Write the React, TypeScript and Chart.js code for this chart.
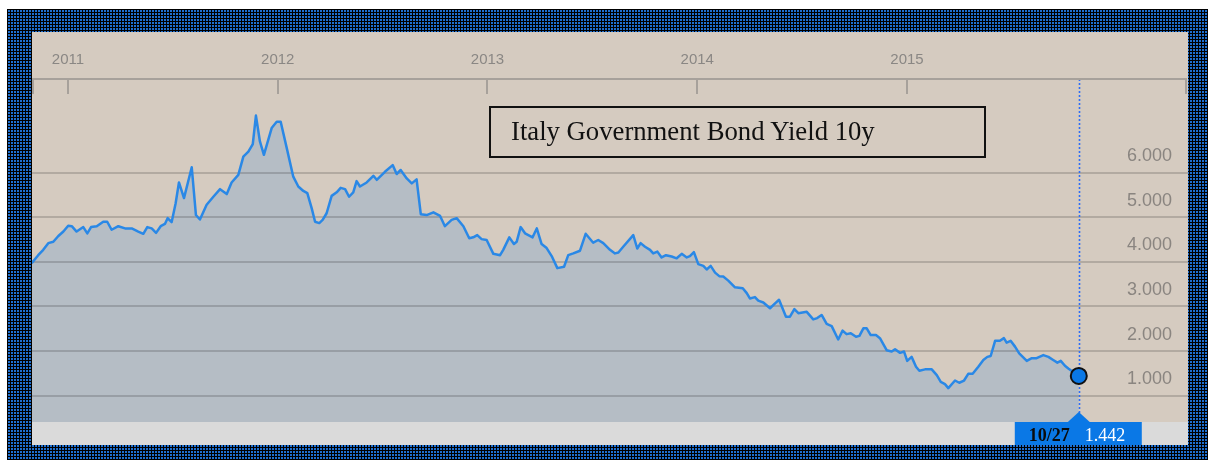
import React, { useEffect, useRef } from "react";
import { Chart, registerables } from "chart.js";

Chart.register(...registerables);

// Decimal-year dates (weekly-ish samples)
const dates: number[] = [
  2010.827, 2010.858, 2010.882, 2010.906, 2010.93, 2010.954, 2010.978, 2011.001, 2011.018, 2011.041,
  2011.073, 2011.092, 2011.11, 2011.137, 2011.168, 2011.187, 2011.208, 2011.24, 2011.272, 2011.304,
  2011.335, 2011.359, 2011.378, 2011.399, 2011.42, 2011.442, 2011.462, 2011.475, 2011.494, 2011.513,
  2011.529, 2011.553, 2011.59, 2011.61, 2011.629,
  2011.661, 2011.693, 2011.725, 2011.757, 2011.78, 2011.812, 2011.836, 2011.86, 2011.881, 2011.896,
  2011.915, 2011.934, 2011.971, 2011.995, 2012.014, 2012.043, 2012.074, 2012.098, 2012.122, 2012.141,
  2012.162, 2012.178, 2012.198, 2012.214, 2012.233, 2012.257, 2012.281, 2012.3, 2012.321, 2012.34,
  2012.36, 2012.376, 2012.392, 2012.424, 2012.456, 2012.472,
  2012.511, 2012.548, 2012.567, 2012.586, 2012.615, 2012.639, 2012.662, 2012.682, 2012.71, 2012.742,
  2012.774, 2012.797, 2012.829, 2012.853, 2012.885, 2012.913, 2012.932, 2012.951, 2012.972, 2012.996,
  2013.028, 2013.06, 2013.075, 2013.104, 2013.126, 2013.139, 2013.158, 2013.179, 2013.215, 2013.235,
  2013.258, 2013.282, 2013.306, 2013.333,
  2013.365, 2013.385, 2013.409, 2013.441, 2013.468, 2013.504, 2013.528, 2013.552, 2013.584, 2013.608,
  2013.624, 2013.647, 2013.695, 2013.714, 2013.73, 2013.751, 2013.775, 2013.79, 2013.81, 2013.83,
  2013.851, 2013.878, 2013.902, 2013.926, 2013.95, 2013.965, 2013.984, 2014.005, 2014.029, 2014.045,
  2014.064, 2014.085, 2014.105, 2014.124, 2014.148,
  2014.18, 2014.217, 2014.236, 2014.251, 2014.275, 2014.291, 2014.315, 2014.347, 2014.371, 2014.39,
  2014.423, 2014.442, 2014.463, 2014.482, 2014.522, 2014.553, 2014.572, 2014.593, 2014.617, 2014.641,
  2014.672, 2014.693, 2014.712, 2014.732, 2014.757, 2014.773, 2014.792, 2014.808, 2014.827, 2014.852,
  2014.871, 2014.903, 2014.927, 2014.943, 2014.967, 2014.986, 2015.001, 2015.022, 2015.043, 2015.059,
  2015.086, 2015.118, 2015.142, 2015.161, 2015.181, 2015.197, 2015.229, 2015.249, 2015.272, 2015.292,
  2015.313, 2015.34, 2015.364, 2015.383, 2015.399, 2015.42, 2015.443, 2015.462, 2015.475, 2015.494,
  2015.515, 2015.535, 2015.571, 2015.595, 2015.618, 2015.65, 2015.674, 2015.697, 2015.717, 2015.733,
  2015.753, 2015.769, 2015.819,
];

const yields: number[] = [
  3.97, 4.15, 4.27, 4.42, 4.45, 4.58, 4.68, 4.81, 4.8, 4.68,
  4.78, 4.64, 4.78, 4.8, 4.9, 4.9, 4.72, 4.8, 4.75, 4.75,
  4.68, 4.63, 4.78, 4.75, 4.65, 4.8, 4.85, 4.98, 4.89, 5.31,
  5.78, 5.43, 6.12, 5.05, 4.95,
  5.28, 5.46, 5.63, 5.52, 5.78, 5.95, 6.36, 6.47, 6.64, 7.28,
  6.7, 6.4, 7.0, 7.14, 7.14, 6.55, 5.91, 5.69, 5.59, 5.54,
  5.2, 4.9, 4.87, 4.94, 5.09, 5.48, 5.56, 5.66, 5.63, 5.46,
  5.56, 5.81, 5.69, 5.78, 5.93, 5.84,
  6.02, 6.17, 5.97, 6.06, 5.87, 5.76, 5.85, 5.07, 5.05, 5.11,
  5.03, 4.8, 4.94, 4.98, 4.8, 4.53, 4.55, 4.6, 4.51, 4.49,
  4.18, 4.15, 4.27, 4.55, 4.4, 4.45, 4.78, 4.64, 4.55, 4.75,
  4.4, 4.31, 4.13, 3.86,
  3.89, 4.15, 4.19, 4.25, 4.63, 4.43, 4.49, 4.42, 4.27, 4.19,
  4.21, 4.34, 4.6, 4.3, 4.42, 4.34, 4.27, 4.19, 4.23, 4.1,
  4.15, 4.12, 4.08, 4.18, 4.1, 4.13, 4.22, 3.95, 3.91, 3.83,
  3.91, 3.76, 3.68, 3.67, 3.58,
  3.43, 3.41, 3.3, 3.18, 3.21, 3.13, 3.09, 2.96, 3.07, 3.15,
  2.77, 2.77, 2.94, 2.85, 2.88, 2.71, 2.74, 2.81, 2.61, 2.56,
  2.26, 2.46, 2.38, 2.4, 2.32, 2.34, 2.51, 2.51, 2.36, 2.36,
  2.29, 2.02, 1.99, 2.04, 1.96, 1.99, 1.78, 1.87, 1.65, 1.56,
  1.59, 1.59, 1.46, 1.31, 1.26, 1.17, 1.34, 1.29, 1.34, 1.49,
  1.49, 1.65, 1.8, 1.87, 1.89, 2.23, 2.23, 2.29, 2.19, 2.23,
  2.1, 1.95, 1.78, 1.84, 1.84, 1.91, 1.87, 1.8, 1.74, 1.78,
  1.67, 1.61, 1.442,
];

const yearTicks: number[] = [2011, 2012, 2013, 2014, 2015];
const valueTicks: number[] = [1, 2, 3, 4, 5, 6];
const chartTitle = "Italy Government Bond Yield 10y";
const lastDateLabel = "10/27";
const lastValueLabel = "1.442";

const BG = "#d5cbc0";
const STRIP = "#dadada";
const FILL = "#b5bdc5";
const LINE = "#2a88e6";
const MARK = "#0a78e6";

const decor = {
  id: "decor",
  beforeDraw(chart: any) {
    const { ctx, width, height, chartArea } = chart;
    ctx.save();
    ctx.fillStyle = BG;
    ctx.fillRect(0, 0, width, height);
    ctx.fillStyle = STRIP;
    ctx.fillRect(0, chartArea.bottom, width, height - chartArea.bottom);
    ctx.restore();
  },
  beforeDatasetsDraw(chart: any) {
    const { ctx, chartArea, width } = chart;
    const ys = chart.scales.y;
    const xs = chart.scales.x;
    ctx.save();
    // horizontal grid lines
    ctx.strokeStyle = "rgba(0,0,0,0.16)";
    ctx.lineWidth = 2;
    for (const v of valueTicks) {
      const py = Math.round(ys.getPixelForValue(v));
      ctx.beginPath();
      ctx.moveTo(0, py);
      ctx.lineTo(width, py);
      ctx.stroke();
    }
    // dotted cursor line
    const lx = Math.round(xs.getPixelForValue(dates[dates.length - 1])) + 0.5;
    ctx.strokeStyle = "#2f6ff5";
    ctx.lineWidth = 1.6;
    ctx.setLineDash([2, 2]);
    ctx.beginPath();
    ctx.moveTo(lx, chartArea.top);
    ctx.lineTo(lx, chartArea.bottom - 8);
    ctx.stroke();
    ctx.restore();
  },
  afterDatasetsDraw(chart: any) {
    const { ctx, chartArea, width } = chart;
    const xs = chart.scales.x;
    const ys = chart.scales.y;
    ctx.save();
    // top axis line and ticks
    ctx.strokeStyle = "#a7a19b";
    ctx.lineWidth = 2;
    const ay = chartArea.top;
    ctx.beginPath();
    ctx.moveTo(0, ay);
    ctx.lineTo(width - 1, ay);
    ctx.stroke();
    const tickXs = [1, width - 2, ...yearTicks.map((y) => Math.round(xs.getPixelForValue(y)))];
    for (const tx of tickXs) {
      ctx.beginPath();
      ctx.moveTo(tx, ay);
      ctx.lineTo(tx, ay + 15);
      ctx.stroke();
    }
    // year labels
    ctx.fillStyle = "#8a8784";
    ctx.font = "15px 'Liberation Sans', Arial, sans-serif";
    ctx.textAlign = "center";
    ctx.textBaseline = "middle";
    for (const y of yearTicks) {
      ctx.fillText(String(y), xs.getPixelForValue(y), 28);
    }
    // value labels
    ctx.fillStyle = "#8a8580";
    ctx.font = "18px 'Liberation Sans', Arial, sans-serif";
    ctx.textAlign = "right";
    for (const v of valueTicks) {
      ctx.fillText(v.toFixed(3), chartArea.right - 16, ys.getPixelForValue(v) - 16.5);
    }
    // callout box
    const lx = xs.getPixelForValue(dates[dates.length - 1]);
    const top = chartArea.bottom;
    ctx.fillStyle = MARK;
    ctx.fillRect(lx - 64, top, 127, 23);
    ctx.beginPath();
    ctx.moveTo(lx - 11.5, top + 0.5);
    ctx.lineTo(lx, top - 10);
    ctx.lineTo(lx + 11.5, top + 0.5);
    ctx.closePath();
    ctx.fill();
    ctx.textAlign = "left";
    ctx.textBaseline = "alphabetic";
    ctx.fillStyle = "#0b0b0b";
    ctx.font = "bold 18px 'Liberation Serif', 'Times New Roman', serif";
    ctx.fillText(lastDateLabel, lx - 50, top + 19);
    ctx.fillStyle = "#ffffff";
    ctx.font = "18px 'Liberation Serif', 'Times New Roman', serif";
    ctx.fillText(lastValueLabel, lx + 6, top + 19);
    ctx.restore();
  },
};

export default function App() {
  const ref = useRef<HTMLCanvasElement | null>(null);

  useEffect(() => {
    if (!ref.current) return;
    const last = dates.length - 1;
    const chart = new Chart(ref.current, {
      type: "line",
      data: {
        datasets: [
          {
            data: dates.map((d, i) => ({ x: d, y: yields[i] })),
            borderColor: LINE,
            borderWidth: 2.5,
            borderJoinStyle: "round",
            backgroundColor: FILL,
            fill: "start",
            tension: 0,
            pointRadius: (c: any) => (c.dataIndex === last ? 8 : 0),
            pointHoverRadius: (c: any) => (c.dataIndex === last ? 8 : 0),
            pointBackgroundColor: MARK,
            pointBorderColor: "#111111",
            pointBorderWidth: 2,
            clip: false,
          } as any,
        ],
      },
      options: {
        animation: false,
        responsive: false,
        devicePixelRatio: 1,
        events: [],
        layout: { autoPadding: false, padding: { top: 47, bottom: 23, left: 0, right: 0 } },
        scales: {
          x: { type: "linear", min: 2010.8284, max: 2016.3397, display: false },
          y: { type: "linear", min: 0.41, max: 8.1, display: false },
        },
        plugins: {
          legend: { display: false },
          tooltip: { enabled: false },
          filler: { drawTime: "beforeDatasetsDraw" } as any,
        },
      } as any,
      plugins: [decor],
    });
    return () => chart.destroy();
  }, []);

  return (
    <div style={{ position: "fixed", left: 0, top: 0, width: 1208, height: 460, background: "#ffffff", overflow: "hidden" }}>
      <div
        style={{
          position: "absolute",
          left: 7,
          top: 9,
          width: 1201,
          height: 451,
          backgroundColor: "#061a36",
          backgroundImage:
            "repeating-linear-gradient(0deg, #000 0px, #000 1px, transparent 1px, transparent 3px), repeating-linear-gradient(90deg, #000 0px, #000 1px, #1e6fd0 1px, #1e6fd0 3px)",
        }}
      />
      <canvas ref={ref} width={1156} height={413} style={{ position: "absolute", left: 32, top: 32, width: 1156, height: 413 }} />
      <div
        style={{
          position: "absolute",
          left: 489,
          top: 106,
          width: 497,
          height: 52,
          boxSizing: "border-box",
          border: "2px solid #111",
          fontFamily: "'Liberation Serif', 'Times New Roman', serif",
          fontSize: 26.7,
          color: "#111",
          paddingLeft: 20,
          lineHeight: "46px",
          whiteSpace: "nowrap",
        }}
      >
        {chartTitle}
      </div>
    </div>
  );
}
